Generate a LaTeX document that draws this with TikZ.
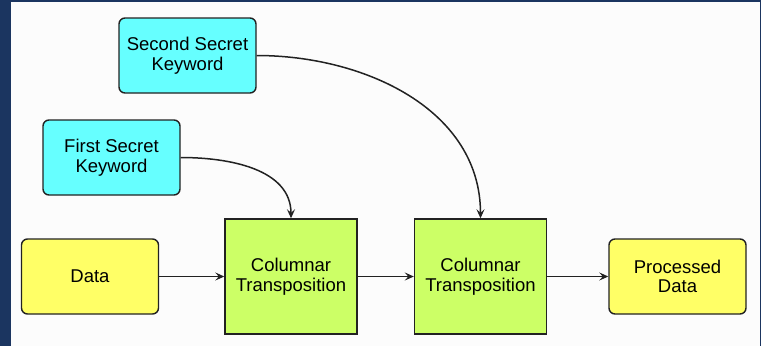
\documentclass[tikz,border=0pt]{standalone}
\usepackage{fontspec}
\setmainfont{Liberation Sans}
\usetikzlibrary{arrows.meta}
\definecolor{frameblue}{HTML}{1B3560}
\definecolor{bgcol}{HTML}{FCFCFC}
\definecolor{keycol}{HTML}{66FFFF}
\definecolor{datacol}{HTML}{FFFF66}
\definecolor{proccol}{HTML}{CCFF66}
\definecolor{edgecol}{HTML}{222222}
\begin{document}
\begin{tikzpicture}[x=1pt,y=-1pt,
  base/.style={draw=edgecol,line width=1.4pt,align=center,inner sep=0pt,
    font=\fontsize{18.5}{19.5}\selectfont},
  keybox/.style={base,fill=keycol,rounded corners=6pt,minimum width=137pt,minimum height=75pt},
  databox/.style={base,fill=datacol,rounded corners=6pt,minimum width=137pt,minimum height=75pt},
  procbox/.style={base,fill=proccol,minimum width=132pt,minimum height=115pt},
  conn/.style={draw=edgecol,line width=1.5pt,-{Stealth[length=9pt,width=8pt,inset=3.5pt]}}]
\useasboundingbox (0,0) rectangle (761,346);
\fill[frameblue] (0,0) rectangle (761,346);
\fill[bgcol] (11,1.5) rectangle (759.5,346);
\node[keybox] (k2) at (187.5,55.5) {Second Secret\\Keyword};
\node[keybox] (k1) at (111.5,157.5) {First Secret\\Keyword};
\node[databox] (d) at (90,276.5) {Data};
\node[procbox] (c1) at (291,276.5) {Columnar\\Transposition};
\node[procbox] (c2) at (480.5,276.5) {Columnar\\Transposition};
\node[databox] (p) at (677.5,276.5) {Processed\\Data};
\draw[conn] (d) -- (c1);
\draw[conn] (c1) -- (c2);
\draw[conn] (c2) -- (p);
\draw[conn] (k1.east) to[out=0,in=90] (c1.north);
\draw[conn] (k2.east) to[out=0,in=90] (c2.north);
\end{tikzpicture}
\end{document}
